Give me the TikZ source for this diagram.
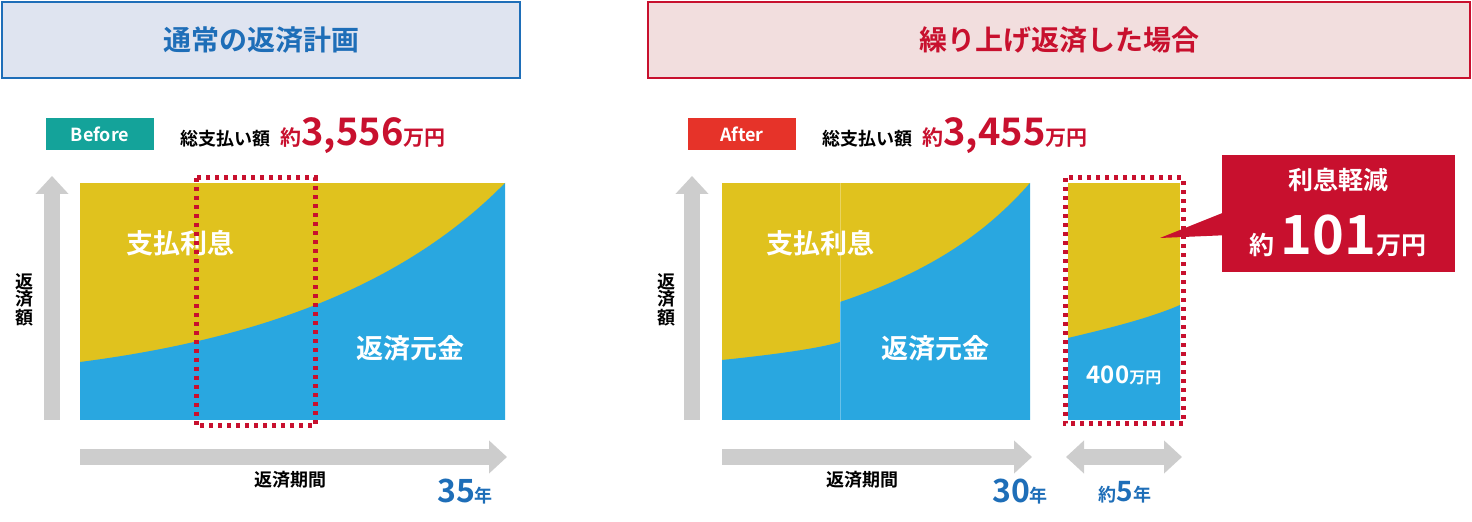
\documentclass[tikz,border=0pt]{standalone}
\usepackage{fontspec}
\setmainfont{Noto Sans CJK JP}[BoldFont={* Bold}]
\usetikzlibrary{arrows.meta}
\definecolor{yel}{HTML}{E0C21E}
\definecolor{blu}{HTML}{29A7E0}
\definecolor{dblu}{HTML}{1E6EB8}
\definecolor{red1}{HTML}{C8102E}
\definecolor{gry}{HTML}{CDCDCD}
\definecolor{hb}{HTML}{DFE4F0}
\definecolor{hr}{HTML}{F2DEDE}
\definecolor{tealb}{HTML}{14A39A}
\definecolor{redb}{HTML}{E63329}
\begin{document}
\begin{tikzpicture}[x=0.5pt,y=-0.5pt,font=\bfseries,
  hdr/.style={draw,line width=1pt,minimum width=259pt,minimum height=38pt,inner sep=0},
  axis/.style={gry,line width=8pt,-{Triangle[length=9pt,width=16pt]}},
  dots/.style={red1,line width=2.5pt,dash pattern=on 2pt off 2.5pt},
  wt/.style={white,font=\bfseries\fontsize{13.5}{13.5}\selectfont},
  vt/.style={align=center,font=\bfseries\fontsize{9}{8.5}\selectfont}]
\useasboundingbox (0,0) rectangle (1472,522);
% headers
\node[hdr,draw=dblu,fill=hb,text=dblu,font=\bfseries\fontsize{14}{14}\selectfont] (h1) at (261,40) {通常の返済計画};
\node[hdr,draw=red1,fill=hr,text=red1,minimum width=411pt,font=\bfseries\fontsize{14}{14}\selectfont] (h2) at (1059,40) {繰り上げ返済した場合};
% badges
\node[fill=tealb,text=white,minimum width=54pt,minimum height=16pt,inner sep=0,font=\bfseries\fontsize{9}{9}\selectfont] (b1) at (100,134) {Before};
\node[fill=redb,text=white,minimum width=54pt,minimum height=16pt,inner sep=0,font=\bfseries\fontsize{9}{9}\selectfont] (b2) at (742,134) {After};
\node[anchor=west,inner sep=0] (t1) at (180,136) {\fontsize{9}{9}\selectfont 総支払い額\hspace{5pt}\textcolor{red1}{\fontsize{10.5}{10.5}\selectfont 約\fontsize{19}{19}\selectfont 3,556\fontsize{10.5}{10.5}\selectfont 万円}};
\node[anchor=west,inner sep=0] (t2) at (822,136) {\fontsize{9}{9}\selectfont 総支払い額\hspace{5pt}\textcolor{red1}{\fontsize{10.5}{10.5}\selectfont 約\fontsize{19}{19}\selectfont 3,455\fontsize{10.5}{10.5}\selectfont 万円}};
% left chart
\fill[yel] (80,183) rectangle (505,420);
\fill[blu] (80,362) .. controls (250,340) and (400,290) .. (505,183) -- (505,420) -- (80,420) -- cycle;
\node[wt] (l1) at (180,243) {支払利息};
\node[wt] (l2) at (410,348) {返済元金};
\draw[dots] (196,178) rectangle (315,426);
\draw[axis] (52,420) -- (52,176);
\node[vt] (y1) at (24,300) {返\\済\\額};
\draw[axis] (80,457) -- (507,457);
\node[font=\bfseries\fontsize{9}{9}\selectfont] (x1) at (290,480) {返済期間};
\node[dblu] (n1) at (465,492) {\fontsize{16}{16}\selectfont 35\fontsize{9}{9}\selectfont 年};
% right chart
\fill[yel] (722,183) rectangle (1030,420);
\fill[blu] (722,360) .. controls (780,354) and (820,348) .. (840,342) -- (840,302) .. controls (920,275) and (980,240) .. (1030,183) -- (1030,420) -- (722,420) -- cycle;
\draw[white,opacity=0.3] (840,183) -- (840,420);
\node[wt] (r1) at (820,243) {支払利息};
\node[wt] (r2) at (935,348) {返済元金};
\fill[yel] (1068,183) rectangle (1180,420);
\fill[blu] (1068,338) .. controls (1110,328) and (1150,318) .. (1180,305) -- (1180,420) -- (1068,420) -- cycle;
\draw[dots] (1065,178) rectangle (1183,424);
\node[white] (r3) at (1124,375) {\fontsize{12}{12}\selectfont 400\fontsize{8}{8}\selectfont 万円};
\draw[axis] (692,420) -- (692,176);
\node[vt] (y2) at (666,300) {返\\済\\額};
\draw[axis] (722,457) -- (1032,457);
\draw[gry,line width=8pt,{Triangle[length=9pt,width=16pt]}-{Triangle[length=9pt,width=16pt]}] (1066,457) -- (1182,457);
\node[font=\bfseries\fontsize{9}{9}\selectfont] (x2) at (862,480) {返済期間};
\node[dblu] (n2) at (1020,492) {\fontsize{16}{16}\selectfont 30\fontsize{9}{9}\selectfont 年};
\node[dblu] (n3) at (1125,492) {\fontsize{9}{9}\selectfont 約\fontsize{14}{14}\selectfont 5\fontsize{9}{9}\selectfont 年};
% callout
\fill[red1] (1222,155) rectangle (1455,272);
\fill[red1] (1230,210) -- (1160,238) -- (1230,235) -- cycle;
\node[white,font=\bfseries\fontsize{12.5}{12.5}\selectfont] (c1) at (1338,180) {利息軽減};
\node[white] (c2) at (1338,236) {\fontsize{12.5}{12.5}\selectfont 約\hspace{3pt}\fontsize{27}{27}\selectfont 101\fontsize{12.5}{12.5}\selectfont 万円};
\end{tikzpicture}
\end{document}
